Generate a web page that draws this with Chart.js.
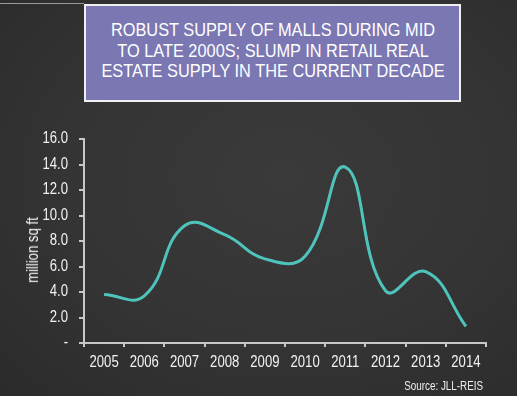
<!DOCTYPE html>
<html>
<head>
<meta charset="utf-8">
<script src="https://cdn.jsdelivr.net/npm/chart.js@4.4.0/dist/chart.umd.min.js"></script>
<style>
    html, body { margin: 0; padding: 0; }
    body {
        width: 517px; height: 396px; overflow: hidden; position: relative;
        background: radial-gradient(ellipse at 55% 45%, #3a3a3a 0%, #343434 55%, #2b2b2b 100%);
        font-family: 'Liberation Sans', Arial, sans-serif;
    }
    #topline { position: absolute; left: 0; top: 3px; width: 84px; height: 1px; background: #9a9a9a; }
    #title {
        position: absolute; left: 84px; top: 4px; width: 373px; height: 94px;
        background: #7a77b3; border: 2px solid #f0f0f0; color: #fff;
        font-size: 19px; line-height: 20.5px; white-space: nowrap;
    }
    #title div {
        position: absolute; left: -43.5px; top: 0; width: 460px; text-align: center;
        padding-top: 14px; transform: scaleX(0.86); transform-origin: center;
    }
    #ytitle {
        position: absolute; left: 33px; top: 250px; font-size: 16px; line-height: 18px;
        color: #f2f2f2; white-space: nowrap;
        transform: translate(-50%, -50%) rotate(-90deg) scaleX(0.82);
    }
    #source {
        position: absolute; right: 34px; top: 379px; font-size: 12px; line-height: 14px; color: #eee;
        transform: scaleX(0.82); transform-origin: right center;
    }
    canvas { position: absolute; left: 0; top: 0; }
</style>
</head>
<body>
<div id="topline"></div>
<div id="title"><div>ROBUST SUPPLY OF MALLS DURING MID<br>TO LATE 2000S; SLUMP IN RETAIL REAL<br>ESTATE SUPPLY IN THE CURRENT DECADE</div></div>
<canvas id="mallChart" width="517" height="396"></canvas>
<div id="ytitle">million sq ft</div>
<div id="source">Source: JLL-REIS</div>
<script>
// Years on the x axis
const years = ['2005', '2006', '2007', '2008', '2009', '2010', '2011', '2012', '2013', '2014'];
// Retail supply, million sq ft
const supply = [3.8, 3.7, 9.2, 8.5, 6.6, 6.8, 13.8, 4.1, 5.6, 1.3];
// Y axis ticks
const yMin = 0;
const yMax = 16;
const yStep = 2;

// The original uses a narrow font; squeeze canvas text horizontally
const condense = 0.82;
const origFill = CanvasRenderingContext2D.prototype.fillText;
CanvasRenderingContext2D.prototype.fillText = function (text, x, y, maxWidth) {
    this.save();
    this.translate(x, y);
    this.scale(condense, 1);
    if (maxWidth !== undefined) origFill.call(this, text, 0, 0, maxWidth / condense);
    else origFill.call(this, text, 0, 0);
    this.restore();
};

const tickFont = { family: "'Liberation Sans', Arial, sans-serif", size: 16 };

const ctx = document.getElementById('mallChart').getContext('2d');
const mallChart = new Chart(ctx, {
    type: 'line',
    data: {
        labels: years,
        datasets: [{
            label: 'Supply',
            data: supply,
            borderColor: '#4fc4bc',
            borderWidth: 3,
            pointRadius: 0,
            tension: 0.45,
            fill: false
        }]
    },
    options: {
        responsive: false,
        animation: false,
        layout: { padding: { top: 139, right: 31, bottom: 0, left: 0 } },
        plugins: {
            legend: { display: false },
            tooltip: { enabled: false }
        },
        scales: {
            x: {
                offset: true,
                grid: {
                    offset: true,
                    drawOnChartArea: false,
                    drawTicks: true,
                    tickLength: 4,
                    color: '#c8c8c8',
                    lineWidth: 2
                },
                border: { color: '#c8c8c8', width: 2 },
                ticks: {
                    color: '#f2f2f2',
                    padding: 6,
                    maxRotation: 0,
                    font: tickFont
                },
                afterFit: (scale) => { scale.height = 53; }
            },
            y: {
                min: yMin,
                max: yMax,
                grid: {
                    drawOnChartArea: false,
                    drawTicks: true,
                    tickLength: 5,
                    color: '#c8c8c8',
                    lineWidth: 2
                },
                border: { color: '#c8c8c8', width: 2 },
                ticks: {
                    stepSize: yStep,
                    color: '#f2f2f2',
                    padding: 11,
                    font: tickFont,
                    callback: (v) => v === 0 ? '-' : v.toFixed(1)
                },
                afterFit: (scale) => { scale.width = 84; }
            }
        }
    }
});
</script>
</body>
</html>
